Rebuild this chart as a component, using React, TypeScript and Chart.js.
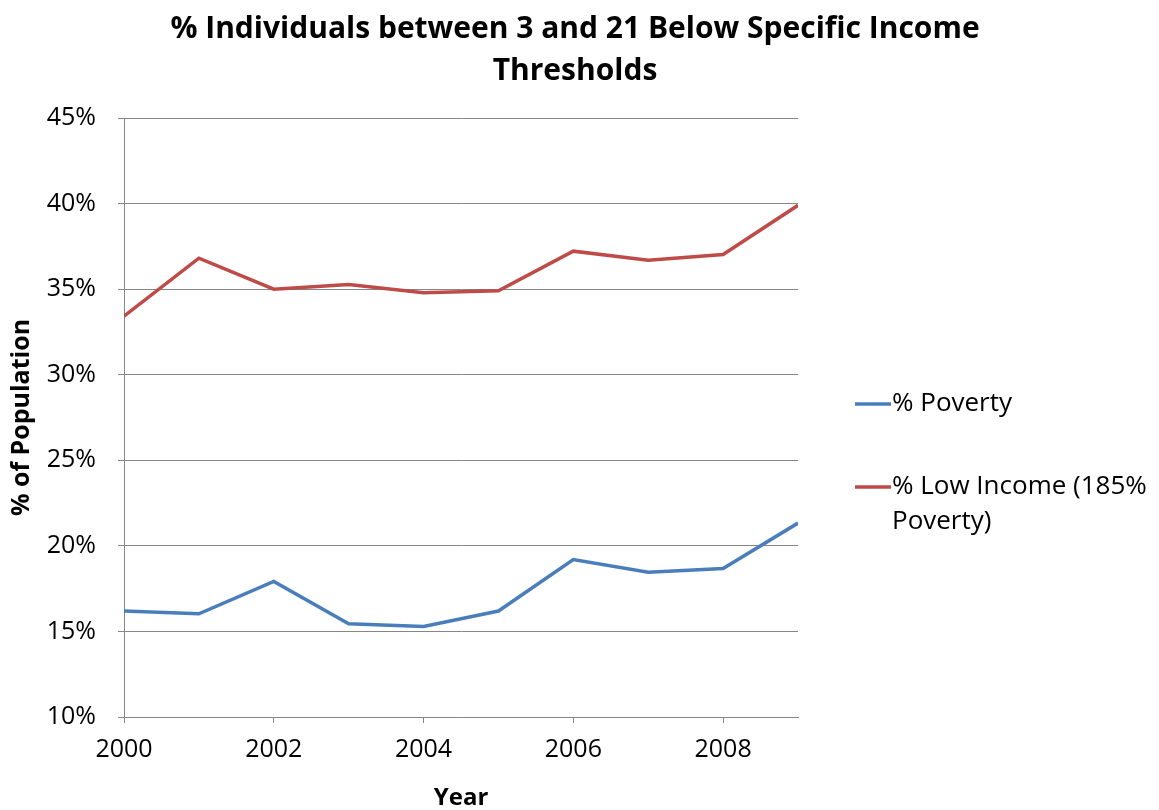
import React, { useEffect, useRef } from "react";
import { Chart, registerables } from "chart.js";

Chart.register(...registerables);

const years = [2000, 2001, 2002, 2003, 2004, 2005, 2006, 2007, 2008, 2009];
const povertyPct = [16.2, 16.03, 17.92, 15.45, 15.29, 16.19, 19.2, 18.46, 18.68, 21.33];
const lowIncomePct = [33.42, 36.81, 35.0, 35.27, 34.79, 34.9, 37.22, 36.69, 37.02, 39.9];
const seriesLabels = ["% Poverty", "% Low Income (185% Poverty)"];
const legendLines = [["% Poverty"], ["% Low Income (185%", "Poverty)"]];
const titleLines = ["% Individuals between 3 and 21 Below Specific Income", "Thresholds"];
const xAxisTitle = "Year";
const yAxisTitle = "% of Population";

const FONT = "'Open Sans', 'Liberation Sans', sans-serif";
const BLUE = "#4A7EBB";
const RED = "#BE4B48";
const GRID = "#868686";

const overlayPlugin = {
  id: "overlay",
  afterDraw(chart: any) {
    const ctx = chart.ctx as CanvasRenderingContext2D;
    const area = chart.chartArea;
    ctx.save();
    ctx.fillStyle = "#000";
    // title
    ctx.textAlign = "center";
    ctx.textBaseline = "alphabetic";
    ctx.font = `bold 30px ${FONT}`;
    titleLines.forEach((t, i) => ctx.fillText(t, 575, 38 + i * 42));
    // legend
    const colors = chart.data.datasets.map((d: any) => d.borderColor);
    const x0 = area.right + 57;
    const rows = [404, 487];
    ctx.textAlign = "left";
    ctx.textBaseline = "middle";
    ctx.font = `26px ${FONT}`;
    legendLines.forEach((lines, i) => {
      const y = rows[i];
      ctx.strokeStyle = colors[i];
      ctx.lineWidth = 3.5;
      ctx.beginPath();
      ctx.moveTo(x0, y);
      ctx.lineTo(x0 + 36, y);
      ctx.stroke();
      ctx.fillStyle = "#000";
      lines.forEach((ln, j) => ctx.fillText(ln, x0 + 37, y + j * 35));
    });
    ctx.restore();
  },
};

export default function App() {
  const ref = useRef<HTMLCanvasElement | null>(null);
  useEffect(() => {
    if (!ref.current) return;
    const chart = new Chart(ref.current, {
      type: "line",
      data: {
        labels: years,
        datasets: [
          {
            label: seriesLabels[0],
            data: years.map((y, i) => ({ x: y, y: povertyPct[i] })),
            borderColor: BLUE,
            backgroundColor: BLUE,
            borderWidth: 3.5,
            pointRadius: 0,
            tension: 0,
          },
          {
            label: seriesLabels[1],
            data: years.map((y, i) => ({ x: y, y: lowIncomePct[i] })),
            borderColor: RED,
            backgroundColor: RED,
            borderWidth: 3.5,
            pointRadius: 0,
            tension: 0,
          },
        ],
      },
      options: {
        responsive: false,
        animation: false,
        devicePixelRatio: 1,
        layout: { padding: { top: 118, right: 361, bottom: 0, left: 0 } },
        plugins: {
          legend: { display: false },
          title: { display: false },
          tooltip: { enabled: false },
        },
        scales: {
          x: {
            type: "linear",
            min: 2000,
            max: 2009,
            afterFit: (s: any) => {
              s.height = 93;
            },
            ticks: {
              stepSize: 2,
              includeBounds: false,
              padding: 12,
              color: "#000",
              font: { family: FONT, size: 25 },
              callback: (v: any) => String(v),
              maxRotation: 0,
            },
            grid: {
              drawOnChartArea: false,
              drawTicks: true,
              tickLength: 6,
              color: GRID,
            },
            border: { color: GRID, width: 1 },
            title: {
              display: true,
              text: xAxisTitle,
              color: "#000",
              font: { family: FONT, size: 24, weight: "bold", lineHeight: 1 },
              padding: { top: 0, bottom: 0 },
            },
          },
          y: {
            type: "linear",
            min: 10,
            max: 45,
            afterFit: (s: any) => {
              s.width = 124;
            },
            ticks: {
              stepSize: 5,
              padding: 22,
              color: "#000",
              font: { family: FONT, size: 25 },
              callback: (v: any) => `${v}%`,
            },
            grid: {
              color: GRID,
              tickLength: 6,
              drawTicks: true,
            },
            border: { color: GRID, width: 1 },
            title: {
              display: true,
              text: yAxisTitle,
              color: "#000",
              font: { family: FONT, size: 25, weight: "bold", lineHeight: 1 },
              padding: { top: 9, bottom: 0 },
            },
          },
        },
      },
      plugins: [overlayPlugin],
    });
    return () => chart.destroy();
  }, []);
  return (
    <div style={{ position: "absolute", left: 0, top: 0, width: 1159, height: 810, background: "#fff" }}>
      <canvas ref={ref} width={1159} height={810} style={{ display: "block" }} />
    </div>
  );
}
